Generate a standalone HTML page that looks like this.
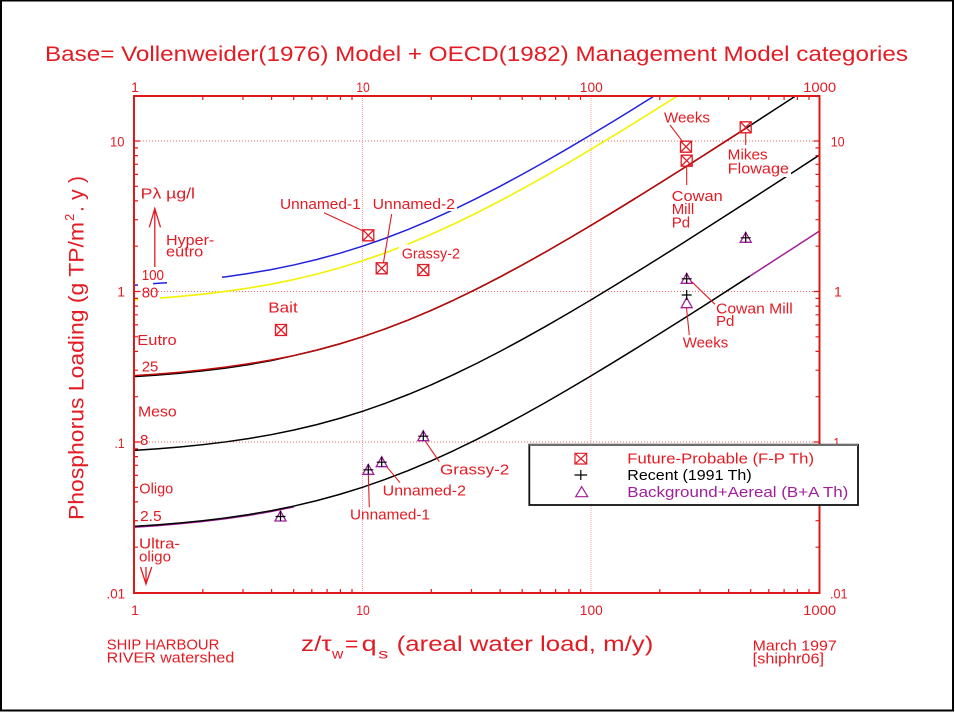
<!DOCTYPE html>
<html>
<head>
<meta charset="utf-8">
<style>
html,body{margin:0;padding:0;background:#fff;}
svg{display:block;}
</style>
</head>
<body>
<svg width="955" height="712" viewBox="0 0 955 712" xmlns="http://www.w3.org/2000/svg" font-family="'Liberation Sans', sans-serif">
<rect x="0" y="0" width="955" height="712" fill="#fff"/>
<!-- outer frame -->
<rect x="1" y="0.5" width="952" height="710" fill="none" stroke="#000" stroke-width="2"/>

<!-- title -->
<text x="45" y="61" font-size="21" fill="#e31b23" textLength="863" lengthAdjust="spacingAndGlyphs">Base= Vollenweider(1976) Model + OECD(1982) Management Model categories</text>

<!-- gridlines -->
<g stroke="#e86a6a" stroke-width="1" stroke-dasharray="1 2" fill="none">
<line x1="134" y1="141" x2="819.5" y2="141"/>
<line x1="134" y1="291.5" x2="819.5" y2="291.5"/>
<line x1="134" y1="442" x2="819.5" y2="442"/>
</g>
<g stroke="#f4a4a4" stroke-width="1" stroke-dasharray="1 1" fill="none">
<line x1="362.5" y1="96" x2="362.5" y2="593"/>
<line x1="591" y1="96" x2="591" y2="593"/>
</g>

<!-- curves -->
<g fill="none" stroke-width="1.5" stroke-linejoin="round">
<polyline stroke="#a0209a" points="134,527.2 156.85,525.7 179.7,523.8 202.55,521.5 225.4,518.8 248.25,515.5 271.1,511.5 293.95,506.9"/>
<polyline stroke="#000" points="134,526.38 156.85,524.86 179.7,522.99 202.55,520.72 225.4,517.96 248.25,514.65 271.1,510.71 293.95,506.06 316.8,500.64 339.65,494.4 362.5,487.31 385.35,479.35 408.2,470.54 431.05,460.91 453.9,450.51 476.75,439.4 499.6,427.66 522.45,415.37 545.3,402.6 568.15,389.41 591,375.88 613.85,362.07 636.7,348.01 659.55,333.76 682.4,319.36 705.25,304.83 728.1,290.19 750,276.06"/>
<polyline stroke="#a0209a" points="750,276.06 773.8,260.68 796.65,245.84 819.5,230.96"/>
<polyline stroke="#000" points="134,450.36 156.85,448.83 179.7,446.97 202.55,444.69 225.4,441.94 248.25,438.62 271.1,434.68 293.95,430.03 316.8,424.61 339.65,418.37 362.5,411.28 385.35,403.32 408.2,394.51 431.05,384.88 453.9,374.48 476.75,363.38 499.6,351.64 522.45,339.34 545.3,326.57 568.15,313.39 591,299.86 613.85,286.04 636.7,271.99 659.55,257.74 682.4,243.34 705.25,228.8 728.1,214.16 750.95,199.44 773.8,184.66 796.65,169.82 819.5,154.94"/>
<polyline stroke="#000" points="134,376.6 156.85,375.1 179.7,373.2 202.55,370.9 225.4,368.1 248.25,364.7 271.1,360.6 293.95,355.56 316.8,350.14 339.65,343.9 362.5,336.81 385.35,328.85 408.2,320.04 431.05,310.41 453.9,300.01 476.75,288.9 499.6,277.16 522.45,264.87 545.3,252.1 568.15,238.91 591,225.38 613.85,211.57 636.7,197.51 659.55,183.26 682.4,168.86 705.25,154.33 728.1,139.69 745.7,128.4 750.95,124.97 773.8,110.18 795.6,96"/>
<polyline stroke="#c00a0a" points="134,375.6 156.85,374.1 179.7,372.2 202.55,369.9 225.4,367.1 248.25,363.8 271.1,360.0 293.95,355.56 316.8,350.14 339.65,343.9 362.5,336.81 385.35,328.85 408.2,320.04 431.05,310.41 453.9,300.01 476.75,288.9 499.6,277.16 522.45,264.87 545.3,252.1 568.15,238.91 591,225.38 613.85,211.57 636.7,197.51 659.55,183.26 682.4,168.86 705.25,154.33 728.1,139.69 745.7,128.4"/>
<polyline stroke="#f2f200" stroke-width="1.6" points="134,299.86 138.5,299.6"/>
<polyline stroke="#f2f200" stroke-width="1.6" points="160,298.1 179.7,296.47 202.55,294.19 225.4,291.44 248.25,288.12 271.1,284.18 293.95,279.53 316.8,274.11 339.65,267.87 362.5,260.78 385.35,252.82 408.2,244.01 431.05,234.38 453.9,223.98 476.75,212.88 499.6,201.14 522.45,188.84 545.3,176.07 568.15,162.89 591,149.36 613.85,135.54 636.7,121.49 659.55,107.24 677.4,96"/>
<polyline stroke="#2222dd" points="133,285.3 138,285.0"/>
<polyline stroke="#2222dd" points="153,283.6 167,282.8"/>
<polyline stroke="#2222dd" points="222,277.3 225.4,276.85 248.25,273.54 271.1,269.6 293.95,264.95 316.8,259.53 339.65,253.29 362.5,246.2 385.35,238.24 408.2,229.43 431.05,219.8 453.9,209.4 476.75,198.29 499.6,186.55 522.45,174.26 545.3,161.49 568.15,148.3 591,134.77 613.85,120.96 636.7,106.9 654.2,96"/>
</g>

<!-- label background masks -->
<rect x="446" y="198" width="11" height="13" fill="#fff"/>
<rect x="399" y="244.5" width="63" height="17" fill="#fff"/>
<rect x="726" y="162" width="65" height="15" fill="#fff"/>

<!-- axes frame -->
<rect x="134" y="96" width="685.5" height="497" fill="none" stroke="#dd1a1a" stroke-width="2"/>

<!-- ticks -->
<g stroke="#dd1a1a" stroke-width="1.2" fill="none">
<path d="M202.8,96v4M243,96v4M271.6,96v4M293.7,96v4M311.8,96v4M327.1,96v4M340.4,96v4M352,96v4M431.3,96v4M471.5,96v4M500.1,96v4M522.2,96v4M540.3,96v4M555.6,96v4M568.9,96v4M580.5,96v4M659.8,96v4M700,96v4M728.6,96v4M750.7,96v4M768.8,96v4M784.1,96v4M797.4,96v4M809,96v4"/>
<path d="M202.8,593v-4M243,593v-4M271.6,593v-4M293.7,593v-4M311.8,593v-4M327.1,593v-4M340.4,593v-4M352,593v-4M431.3,593v-4M471.5,593v-4M500.1,593v-4M522.2,593v-4M540.3,593v-4M555.6,593v-4M568.9,593v-4M580.5,593v-4M659.8,593v-4M700,593v-4M728.6,593v-4M750.7,593v-4M768.8,593v-4M784.1,593v-4M797.4,593v-4M809,593v-4"/>
<path d="M134,547.2h4M134,520.7h4M134,501.9h4M134,487.3h4M134,475.4h4M134,465.3h4M134,456.6h4M134,448.9h4M134,396.7h4M134,370.2h4M134,351.4h4M134,336.8h4M134,324.9h4M134,314.8h4M134,306.1h4M134,298.4h4M134,246.2h4M134,219.7h4M134,200.9h4M134,186.3h4M134,174.4h4M134,164.3h4M134,155.6h4M134,147.9h4M134,141h6M134,291.5h6M134,442h6"/>
<path d="M819.5,547.2h-4M819.5,520.7h-4M819.5,501.9h-4M819.5,487.3h-4M819.5,475.4h-4M819.5,465.3h-4M819.5,456.6h-4M819.5,448.9h-4M819.5,396.7h-4M819.5,370.2h-4M819.5,351.4h-4M819.5,336.8h-4M819.5,324.9h-4M819.5,314.8h-4M819.5,306.1h-4M819.5,298.4h-4M819.5,246.2h-4M819.5,219.7h-4M819.5,200.9h-4M819.5,186.3h-4M819.5,174.4h-4M819.5,164.3h-4M819.5,155.6h-4M819.5,147.9h-4M819.5,141h-6M819.5,291.5h-6M819.5,442h-6"/>
</g>

<!-- tick labels -->
<g font-size="14" fill="#e31b23">
<text x="135" y="92" text-anchor="middle">1</text>
<text x="363" y="92" text-anchor="middle" textLength="13.5" lengthAdjust="spacingAndGlyphs">10</text>
<text x="591.3" y="92" text-anchor="middle" textLength="23" lengthAdjust="spacingAndGlyphs">100</text>
<text x="819.7" y="92" text-anchor="middle" textLength="33" lengthAdjust="spacingAndGlyphs">1000</text>
<text x="135" y="615" text-anchor="middle">1</text>
<text x="363" y="615" text-anchor="middle" textLength="13.5" lengthAdjust="spacingAndGlyphs">10</text>
<text x="591.3" y="615" text-anchor="middle" textLength="23" lengthAdjust="spacingAndGlyphs">100</text>
<text x="819.7" y="615" text-anchor="middle" textLength="33" lengthAdjust="spacingAndGlyphs">1000</text>
<text x="124.5" y="146.3" text-anchor="end" textLength="14.5" lengthAdjust="spacingAndGlyphs">10</text>
<text x="125" y="296.3" text-anchor="end">1</text>
<text x="124.5" y="448" text-anchor="end" textLength="10" lengthAdjust="spacingAndGlyphs">.1</text>
<text x="125" y="598.3" text-anchor="end" textLength="18.5" lengthAdjust="spacingAndGlyphs">.01</text>
<text x="830.7" y="146.3" textLength="14" lengthAdjust="spacingAndGlyphs">10</text>
<text x="834" y="296.3">1</text>
<text x="830" y="447.5" textLength="10" lengthAdjust="spacingAndGlyphs">.1</text>
<text x="830" y="598.3" textLength="17.5" lengthAdjust="spacingAndGlyphs">.01</text>
</g>

<!-- category labels on left -->
<g font-size="15" fill="#e31b23">
<text x="140.7" y="198.5" textLength="54.3" lengthAdjust="spacingAndGlyphs">Pλ µg/l</text>
<text x="166" y="245" textLength="48.3" lengthAdjust="spacingAndGlyphs">Hyper-</text>
<text x="166" y="256.5" textLength="37.3" lengthAdjust="spacingAndGlyphs">eutro</text>
<text x="141.7" y="280" textLength="22.3" lengthAdjust="spacingAndGlyphs">100</text>
<text x="141.7" y="297.3" textLength="16.6" lengthAdjust="spacingAndGlyphs">80</text>
<text x="137.3" y="345" textLength="39.4" lengthAdjust="spacingAndGlyphs">Eutro</text>
<text x="141.7" y="371.5" textLength="16.6" lengthAdjust="spacingAndGlyphs">25</text>
<text x="138" y="416.7" textLength="38.7" lengthAdjust="spacingAndGlyphs">Meso</text>
<text x="140" y="445">8</text>
<text x="139.3" y="493.3" textLength="34" lengthAdjust="spacingAndGlyphs">Oligo</text>
<text x="140" y="521" textLength="21.7" lengthAdjust="spacingAndGlyphs">2.5</text>
<text x="139" y="548.3" textLength="41" lengthAdjust="spacingAndGlyphs">Ultra-</text>
<text x="139" y="561.7" textLength="32" lengthAdjust="spacingAndGlyphs">oligo</text>
</g>
<g stroke="#e31b23" stroke-width="1.3" fill="none">
<path d="M154.8,267V208.5M149.3,227.3L154.8,208.5L160.5,227.3"/>
<path d="M140.5,567L146,584L151.7,567M146,567V584"/>
</g>

<!-- data labels -->
<g font-size="15" fill="#e31b23">
<text x="268.3" y="312.7" textLength="29.4" lengthAdjust="spacingAndGlyphs">Bait</text>
<text x="280" y="209" textLength="80.7" lengthAdjust="spacingAndGlyphs">Unnamed-1</text>
<text x="372.7" y="209" textLength="82.3" lengthAdjust="spacingAndGlyphs">Unnamed-2</text>
<text x="401.7" y="258.3" textLength="58.3" lengthAdjust="spacingAndGlyphs">Grassy-2</text>
<text x="664" y="122.3" textLength="46" lengthAdjust="spacingAndGlyphs">Weeks</text>
<text x="671.7" y="201" textLength="51" lengthAdjust="spacingAndGlyphs">Cowan</text>
<text x="671.7" y="214">Mill</text>
<text x="671.7" y="227.7">Pd</text>
<text x="727.7" y="159.5" textLength="40" lengthAdjust="spacingAndGlyphs">Mikes</text>
<text x="727.7" y="173.5" textLength="61.3" lengthAdjust="spacingAndGlyphs">Flowage</text>
<text x="716" y="313.3" textLength="76.7" lengthAdjust="spacingAndGlyphs">Cowan Mill</text>
<text x="716" y="326">Pd</text>
<text x="682.7" y="347.7" textLength="45.6" lengthAdjust="spacingAndGlyphs">Weeks</text>
<text x="440" y="474.3" textLength="69.3" lengthAdjust="spacingAndGlyphs">Grassy-2</text>
<text x="382.7" y="495.7" textLength="83.3" lengthAdjust="spacingAndGlyphs">Unnamed-2</text>
<text x="350" y="519.3" textLength="80" lengthAdjust="spacingAndGlyphs">Unnamed-1</text>
</g>

<!-- leader lines -->
<g stroke="#e31b23" stroke-width="1.1" fill="none">
<path d="M324,212.7L363.3,231"/>
<path d="M391.7,214L383.3,263.5"/>
<path d="M670,125L682.7,141.7"/>
<path d="M686.7,166V185"/>
<path d="M745.7,132.8V145"/>
<path d="M691.7,281.7L715,304.3"/>
<path d="M686.5,308L689.3,335"/>
<path d="M425,440.7L439.3,461.7"/>
<path d="M386.7,466.7L400,482.7"/>
<path d="M368.3,474L369.3,507.3"/>
</g>

<!-- Future-Probable boxes -->
<g stroke="#e31b23" stroke-width="1.3" fill="none">
<path d="M275.5,324.5h11v11h-11zM275.5,324.5l11,11M286.5,324.5l-11,11"/>
<path d="M362.8,229.8h11v11h-11zM362.8,229.8l11,11M373.8,229.8l-11,11"/>
<path d="M376.2,262.8h11v11h-11zM376.2,262.8l11,11M387.2,262.8l-11,11"/>
<path d="M417.8,264.5h11v11h-11zM417.8,264.5l11,11M428.8,264.5l-11,11"/>
<path d="M680.5,141.2h11v11h-11zM680.5,141.2l11,11M691.5,141.2l-11,11"/>
<path d="M681.2,155.2h11v11h-11zM681.2,155.2l11,11M692.2,155.2l-11,11"/>
<path d="M740.2,121.8h11v11h-11zM740.2,121.8l11,11M751.2,121.8l-11,11"/>
</g>

<!-- Background+Aereal triangles -->
<g stroke="#a0209a" stroke-width="1.3" fill="none">
<path d="M280.5,511L275,521L286,521Z"/>
<path d="M368.3,464.3L362.8,474.3L373.8,474.3Z"/>
<path d="M381.7,456.7L376.2,466.7L387.2,466.7Z"/>
<path d="M423.3,430.7L417.8,440.7L428.8,440.7Z"/>
<path d="M686.7,273.3L681.2,283.3L692.2,283.3Z"/>
<path d="M686.7,297.7L681.2,307.7L692.2,307.7Z"/>
<path d="M745.7,232.3L740.2,242.3L751.2,242.3Z"/>
</g>
<!-- Recent crosses -->
<g stroke="#000" stroke-width="1.2" fill="none">
<path d="M275.5,516.5h10M280.5,511v10"/>
<path d="M363.3,469.8h10M368.3,464.3v10"/>
<path d="M376.7,462.2h10M381.7,456.7v10"/>
<path d="M418.3,436.2h10M423.3,430.7v10"/>
<path d="M681.7,278.8h10M686.7,273.3v10"/>
<path d="M681.7,295h10M686.7,290v10"/>
<path d="M740.7,237.8h10M745.7,232.3v10"/>
</g>

<!-- legend -->
<rect x="529.3" y="444.7" width="328.7" height="60.3" fill="#fff" stroke="#111" stroke-width="1.8"/>
<line x1="529.3" y1="445" x2="858" y2="445" stroke="#6e6e6e" stroke-width="2"/>
<path d="M575,453.3h11.7v10.7h-11.7zM575,453.3l11.7,10.7M586.7,453.3l-11.7,10.7" stroke="#e31b23" stroke-width="1.2" fill="none"/>
<path d="M574.5,475h12.6M580.8,470v10" stroke="#000" stroke-width="1.2" fill="none"/>
<path d="M581.7,486.7L575.7,496.7L587.7,496.7Z" stroke="#a0209a" stroke-width="1.2" fill="none"/>
<g font-size="15">
<text x="627.3" y="463.3" fill="#e31b23" textLength="186.7" lengthAdjust="spacingAndGlyphs">Future-Probable (F-P Th)</text>
<text x="627.3" y="480" fill="#000" textLength="124.4" lengthAdjust="spacingAndGlyphs">Recent (1991 Th)</text>
<text x="627.3" y="497" fill="#a0209a" textLength="221" lengthAdjust="spacingAndGlyphs">Background+Aereal (B+A Th)</text>
</g>

<!-- y axis title -->
<g font-size="21" fill="#e31b23">
<text transform="translate(83.3,520) rotate(-90)" textLength="298" lengthAdjust="spacingAndGlyphs">Phosphorus Loading (g TP/m</text>
<text transform="translate(74,221) rotate(-90)" font-size="13">2</text>
<text transform="translate(83.3,212) rotate(-90)" textLength="36" lengthAdjust="spacing">.y)</text>
</g>

<!-- x axis title -->
<g font-size="21" fill="#e31b23">
<text x="301" y="651" textLength="30.7" lengthAdjust="spacingAndGlyphs">z/τ</text>
<text x="332" y="658.3" font-size="14" textLength="11.3" lengthAdjust="spacingAndGlyphs">w</text>
<text x="345" y="651" textLength="13.3" lengthAdjust="spacingAndGlyphs">=</text>
<text x="361.7" y="651" textLength="15" lengthAdjust="spacingAndGlyphs">q</text>
<text x="378.3" y="658.3" font-size="14" textLength="10" lengthAdjust="spacingAndGlyphs">s</text>
<text x="396.7" y="651" textLength="256.6" lengthAdjust="spacingAndGlyphs">(areal water load, m/y)</text>
</g>

<!-- footer notes -->
<g font-size="15" fill="#e31b23">
<text x="106.7" y="649.3" textLength="112.6" lengthAdjust="spacingAndGlyphs">SHIP HARBOUR</text>
<text x="106.7" y="662.7" textLength="127.6" lengthAdjust="spacingAndGlyphs">RIVER watershed</text>
<text x="752.7" y="650.7" textLength="84" lengthAdjust="spacingAndGlyphs">March 1997</text>
<text x="752.7" y="663.5" textLength="71.3" lengthAdjust="spacingAndGlyphs">[shiphr06]</text>
</g>
</svg>
</body>
</html>
